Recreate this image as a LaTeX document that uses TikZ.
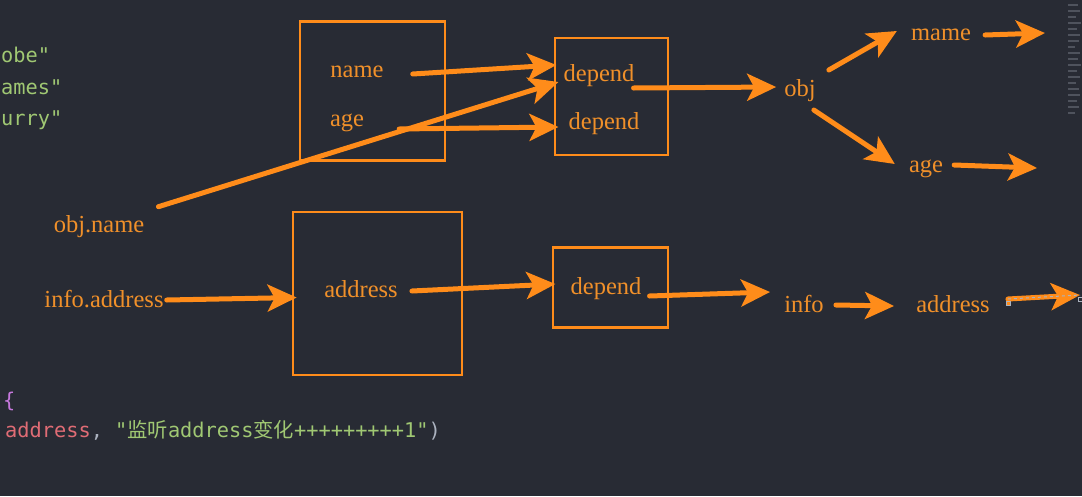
\documentclass[tikz,border=0pt]{standalone}
\usepackage{fontspec}
\setmainfont{Liberation Serif}
\setmonofont{DejaVu Sans Mono}
\newfontfamily\cjkfont{Noto Sans CJK SC}
\usetikzlibrary{arrows.meta}
\definecolor{bgc}{RGB}{40,43,52}
\definecolor{ora}{RGB}{255,140,26}
\definecolor{orat}{RGB}{240,144,42}
\definecolor{codegreen}{RGB}{160,200,115}
\definecolor{codepink}{RGB}{224,108,117}
\definecolor{codepurple}{RGB}{198,120,221}
\definecolor{codegrey}{RGB}{171,178,191}
\tikzset{
  lbl/.style={text=orat,font=\fontsize{24.5}{28}\selectfont,inner sep=0pt,yshift=-2pt},
  box/.style={draw=ora,line width=2.8pt,inner sep=0pt},
  arr/.style={draw=ora,line width=5pt,line cap=round,-{Stealth[length=29pt,width=27pt,inset=7pt]}},
  code/.style={font=\ttfamily\fontsize{20.3}{22}\selectfont,inner sep=0pt,anchor=base west},
}
\begin{document}
\begin{tikzpicture}[x=1pt,y=-1pt]
\fill[bgc] (0,0) rectangle (1082,496);
\useasboundingbox (0,0) rectangle (1082,496);
% code fragments
\node[code,text=codegreen] (c1) at (1,62) {obe"};
\node[code,text=codegreen] (c2) at (1,94) {ames"};
\node[code,text=codegreen] (c3) at (1,125) {urry"};
\node[code,text=codepurple] (c4) at (3,407) {\{};
\node[code] (c5) at (5,437) {\textcolor{codepink}{address}\textcolor{codegrey}{, }\textcolor{codegreen}{"{\cjkfont 监听}address{\cjkfont 变化}+++++++++1"}\textcolor{codegrey}{)}};
% minimap hint
\foreach \yy/\ww in {4/10,10/12,16/8,22/13,28/9,34/12,40/11,46/7,52/12,58/10,64/13,70/9,76/12,82/8,88/11,94/12,100/9,106/11,112/7}
  \fill[codegrey,opacity=0.3] (1068,\yy) rectangle ++(\ww,2.2);
% boxes
\node[box,minimum width=145pt,minimum height=139pt] (b1) at (372.5,91) {};
\node[box,minimum width=113pt,minimum height=117pt] (b2) at (611.5,96.5) {};
\node[box,minimum width=169pt,minimum height=163pt] (b3) at (377.5,293.5) {};
\node[box,minimum width=115pt,minimum height=80pt] (b4) at (610.5,287.5) {};
% labels
\node[lbl] (name) at (357,70) {name};
\node[lbl] (age) at (347,121) {age};
\node[lbl] (dep1) at (599,74) {depend};
\node[lbl] (dep2) at (604,122) {depend};
\node[lbl] (obj) at (800,89) {obj};
\node[lbl] (mame) at (941,33) {mame};
\node[lbl] (age2) at (926,167) {age};
\node[lbl] (objname) at (99,225) {obj.name};
\node[lbl] (infoaddr) at (104,297) {info.address};
\node[lbl] (addr) at (361,287) {address};
\node[lbl] (dep3) at (606,287) {depend};
\node[lbl] (info) at (804,302) {info};
\node[lbl] (addr2) at (953,302) {address};
% arrow end points
\coordinate (e1) at (1045,33);
\coordinate (e2) at (1037,168);
\coordinate (e3) at (1080,295);
% arrows
\draw[arr] ([xshift=29pt,yshift=-2pt]name.east) -- ([xshift=-7pt,yshift=11pt]dep1.west);
\draw[arr] ([xshift=35pt,yshift=-6pt]age.east) -- ([xshift=-10pt,yshift=-3pt]dep2.west);
\draw[arr] ([xshift=14pt,yshift=9pt]objname.north east) -- ([xshift=-5pt,yshift=-6pt]dep1.west);
\draw[arr] ([xshift=-1pt,yshift=-12pt]dep1.east) -- ([xshift=-8pt,yshift=4pt]obj.west);
\draw[arr] ([xshift=13pt,yshift=21pt]obj.east) -- ([xshift=-14pt,yshift=4pt]mame.west);
\draw[arr] ([xshift=-2pt,yshift=-19pt]obj.east) -- ([xshift=-14pt,yshift=5pt]age2.west);
\draw[arr] ([xshift=14pt,yshift=0pt]mame.east) -- (e1);
\draw[arr] ([xshift=11pt,yshift=4pt]age2.east) -- (e2);
\draw[arr] ([xshift=3pt,yshift=-1pt]infoaddr.east) -- ([xshift=5pt,yshift=-4pt]b3.west);
\draw[arr] ([xshift=14pt,yshift=-2pt]addr.east) -- ([xshift=-15pt,yshift=5pt]dep3.west);
\draw[arr] ([xshift=8pt,yshift=-7pt]dep3.east) -- ([xshift=-14pt,yshift=12pt]info.west);
\draw[arr] ([xshift=12pt,yshift=-1pt]info.east) -- ([xshift=-22pt,yshift=-2pt]addr2.west);
\draw[arr] ([xshift=18pt,yshift=5pt]addr2.east) -- (e3);
\draw[codegrey,line width=1pt,dashed] ([xshift=18pt,yshift=5pt]addr2.east) -- (e3);
\draw[codegrey,line width=0.8pt,fill=ora] ([xshift=16pt,yshift=3pt]addr2.east) rectangle ++(4,4);
\draw[codegrey,line width=0.8pt,fill=bgc] ([xshift=-2pt,yshift=-2pt]e3) rectangle ++(4,4);
\end{tikzpicture}
\end{document}
